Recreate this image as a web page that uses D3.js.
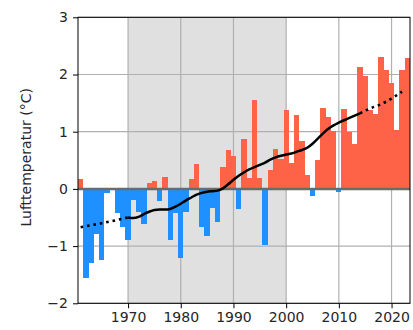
<!DOCTYPE html>
<html>
<head>
<meta charset="utf-8">
<script src="https://cdn.jsdelivr.net/npm/d3@7"></script>
<style>
  html, body { margin: 0; padding: 0; background: #fff; }
  svg { display: block; }
  text { font-family: "DejaVu Sans", sans-serif; fill: #262626; }
</style>
</head>
<body>
<svg id="chart" width="413" height="330"></svg>
<script>
// Annual air temperature anomalies (°C), one value per year
const years = d3.range(1961, 2024);
const anomalies = [
  0.17, -1.55, -1.30, -0.78, -1.24, -0.08, 0.00, -0.42, -0.66, -0.89,
  -0.19, -0.40, -0.61, 0.11, 0.13, -0.21, 0.20, -0.89, -0.43, -1.21,
  -0.41, 0.17, 0.43, -0.66, -0.83, -0.33, -0.58, 0.38, 0.68, 0.58,
  -0.35, 0.87, 0.19, 1.55, 0.19, -0.98, 0.33, 0.70, 0.53, 1.38,
  0.45, 1.30, 0.83, 0.25, -0.12, 0.50, 1.42, 1.26, 1.02, -0.06,
  1.40, 1.00, 0.79, 2.13, 1.98, 1.38, 1.31, 2.30, 2.07, 1.86,
  1.03, 2.08, 2.28
];

// Smoothed trend (solid) and its extensions at both ends (dotted)
const trendYears = d3.range(1970, 2015);
const trendValues = [
  -0.50, -0.51, -0.49, -0.44, -0.40, -0.37, -0.36, -0.36, -0.35, -0.31,
  -0.26, -0.20, -0.15, -0.10, -0.07, -0.05, -0.04, -0.03, 0.01, 0.08,
  0.16, 0.23, 0.29, 0.34, 0.38, 0.42, 0.46, 0.51, 0.55, 0.58,
  0.60, 0.62, 0.65, 0.68, 0.72, 0.79, 0.88, 0.97, 1.05, 1.11,
  1.16, 1.20, 1.24, 1.28, 1.32
];
const startExtYears = [1961, 1965, 1970];
const startExtValues = [-0.67, -0.60, -0.50];
const endExtYears = [2014, 2016, 2018, 2020, 2022];
const endExtValues = [1.32, 1.41, 1.48, 1.58, 1.70];

// Reference period and axis ticks
const refPeriod = [1970, 2000];
const xTicks = [1970, 1980, 1990, 2000, 2010, 2020];
const yTicks = [-2, -1, 0, 1, 2, 3];
const yLabel = "Lufttemperatur (°C)";

const margin = { left: 78, right: 3, top: 17.3, bottom: 26.7 };
const W = 413, H = 330;
const svg = d3.select("#chart");

const x = d3.scaleLinear().domain([1960.5, 2023.5]).range([margin.left, W - margin.right]);
const y = d3.scaleLinear().domain([-2, 3]).range([H - margin.bottom, margin.top]);

const x0 = x.range()[0], x1 = x.range()[1];
const y0 = y.range()[1], y1 = y.range()[0];

// reference period shading
svg.append("rect")
  .attr("x", x(refPeriod[0])).attr("y", y0)
  .attr("width", x(refPeriod[1]) - x(refPeriod[0]))
  .attr("height", y1 - y0)
  .attr("fill", "#e0e0e0");

// grid
const grid = svg.append("g").attr("stroke", "#b0b0b0").attr("stroke-width", 1.2);
grid.selectAll("line.gx").data(xTicks).join("line")
  .attr("x1", d => x(d)).attr("x2", d => x(d))
  .attr("y1", y0).attr("y2", y1);
grid.selectAll("line.gy").data(yTicks).join("line")
  .attr("x1", x0).attr("x2", x1)
  .attr("y1", d => y(d)).attr("y2", d => y(d));

// bars
const bw = x(1) - x(0);
svg.append("g").selectAll("rect").data(years).join("rect")
  .attr("x", (d) => x(d) - bw / 2)
  .attr("width", bw)
  .attr("y", (d, i) => y(Math.max(0, anomalies[i])))
  .attr("height", (d, i) => Math.abs(y(anomalies[i]) - y(0)))
  .attr("fill", (d, i) => anomalies[i] >= 0 ? "tomato" : "dodgerblue")
  .attr("shape-rendering", "crispEdges");

// zero line
svg.append("line")
  .attr("x1", x0).attr("x2", x1)
  .attr("y1", y(0)).attr("y2", y(0))
  .attr("stroke", "#6b6b6b").attr("stroke-width", 2.5);

// trend lines
const line = d3.line().x(d => x(d[0])).y(d => y(d[1])).curve(d3.curveMonotoneX);
const zip = (a, b) => a.map((v, i) => [v, b[i]]);
svg.append("path").datum(zip(trendYears, trendValues))
  .attr("d", line).attr("fill", "none")
  .attr("stroke", "#000").attr("stroke-width", 2.5);
[zip(startExtYears, startExtValues), zip(endExtYears, endExtValues)].forEach(pts => {
  svg.append("path").datum(pts)
    .attr("d", line).attr("fill", "none")
    .attr("stroke", "#000").attr("stroke-width", 2.6)
    .attr("stroke-dasharray", "2.6,3.9");
});

// frame
svg.append("rect")
  .attr("x", x0).attr("y", y0)
  .attr("width", x1 - x0).attr("height", y1 - y0)
  .attr("fill", "none").attr("stroke", "#000").attr("stroke-width", 1);

// axes
const xAxis = d3.axisBottom(x).tickValues(xTicks).tickFormat(d3.format("d"))
  .tickSize(5).tickPadding(4);
const gx = svg.append("g").attr("transform", `translate(0,${y1})`).call(xAxis);
gx.select(".domain").remove();
gx.selectAll("text").attr("font-size", 14).attr("font-family", "DejaVu Sans").attr("fill", "#262626");

const yAxis = d3.axisLeft(y).tickValues(yTicks).tickFormat(d => d < 0 ? "\u2212" + Math.abs(d) : d)
  .tickSize(5).tickPadding(5);
const gy = svg.append("g").attr("transform", `translate(${x0},0)`).call(yAxis);
gy.select(".domain").remove();
gy.selectAll("text").attr("font-size", 14).attr("font-family", "DejaVu Sans").attr("fill", "#262626");

svg.append("text")
  .attr("transform", `translate(31,${(y0 + y1) / 2 - 3}) rotate(-90)`)
  .attr("text-anchor", "middle")
  .attr("font-size", 14)
  .text(yLabel);
</script>
</body>
</html>
